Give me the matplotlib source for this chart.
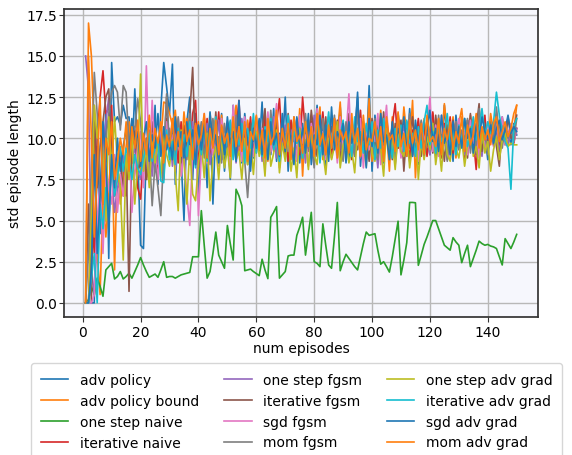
import numpy as np
import matplotlib
matplotlib.use("Agg")
import matplotlib.pyplot as plt

labels = ["adv policy", "adv policy bound", "one step naive", "iterative naive",
          "one step fgsm", "iterative fgsm", "sgd fgsm", "mom fgsm",
          "one step adv grad", "iterative adv grad", "sgd adv grad", "mom adv grad"]

adv_policy = [
    0, 0, 0, 0, 9.5, 4.2, 8.0, 11.5, 2.7, 14.6,
    11.0, 11.3, 10.8, 12.0, 11.2, 11.3, 8.5, 13.0, 9.0, 3.5,
    3.3, 9.5, 10.2, 8.0, 12.0, 7.2, 11.8, 14.6, 13.1, 11.5,
    14.5, 7.2, 10.5, 8.8, 5.0, 11.0, 12.5, 7.5, 11.5, 6.3,
    9.8, 10.5, 7.0, 11.2, 6.0, 10.8, 9.2, 11.5, 8.0, 10.5,
    7.5, 12.0, 9.0, 10.8, 8.5, 11.5, 9.8, 10.2, 8.8, 11.0,
    9.5, 12.2, 8.2, 10.5, 9.0, 11.8, 8.6, 10.3, 9.4, 12.5,
    8.0, 10.6, 9.8, 11.2, 8.5, 10.9, 9.2, 11.5, 8.4, 10.0,
    12.0, 9.1, 10.7, 8.2, 11.3, 9.6, 10.4, 8.8, 11.9, 9.3,
    10.5, 8.6, 11.0, 9.9, 12.8, 8.3, 10.6, 9.1, 13.2, 8.0,
    11.4, 9.7, 10.2, 8.5, 11.2, 9.4, 10.8, 8.7, 11.5, 9.9,
    10.3, 8.9, 11.8, 9.2, 10.6, 8.4, 11.0, 9.7, 10.5, 9.0,
    11.3, 8.8, 10.1, 9.5, 12.0, 9.3, 10.7, 8.6, 11.4, 9.8,
    10.4, 8.9, 11.1, 9.6, 10.8, 9.0, 11.6, 9.4, 10.2, 8.7,
    11.0, 9.9, 10.5, 9.2, 11.3, 10.0, 10.4, 9.6, 10.9, 10.2]

adv_policy_bound = [
    0, 17.0, 15.0, 10.0, 3.0, 0.5, 6.5, 4.0, 6.5, 10.5,
    2.0, 8.5, 6.0, 7.5, 9.5, 11.0, 9.0, 8.5, 10.2, 8.0,
    9.3, 10.0, 7.8, 9.6, 8.8, 9.9, 9.8, 12.2, 12.1, 11.5,
    10.8, 11.7, 9.5, 10.5, 9.8, 11.2, 8.4, 10.6, 9.5, 11.0,
    9.1, 10.4, 8.7, 11.5, 9.9, 10.2, 8.8, 11.4, 9.7, 10.9,
    8.5, 10.6, 12.0, 9.2, 10.3, 8.9, 11.1, 9.8, 10.5, 9.1,
    10.8, 9.5, 11.6, 8.6, 10.4, 9.9, 11.2, 8.2, 10.7, 9.6,
    11.0, 9.3, 10.5, 8.8, 11.8, 7.7, 10.9, 9.6, 11.4, 9.0,
    10.3, 11.9, 8.7, 10.6, 9.4, 11.1, 9.8, 10.2, 12.2, 9.0,
    10.7, 9.3, 11.5, 8.9, 10.4, 9.8, 11.0, 9.2, 12.4, 8.6,
    10.8, 9.5, 11.7, 9.1, 10.5, 8.0, 11.3, 9.7, 10.6, 9.0,
    11.9, 10.2, 9.4, 12.3, 7.6, 10.8, 9.9, 11.2, 9.5, 10.4,
    11.5, 9.2, 10.6, 9.7, 12.1, 10.4, 9.6, 11.3, 8.8, 10.9,
    11.8, 9.8, 10.1, 11.4, 9.9, 10.6, 11.0, 9.5, 10.8, 9.7,
    11.5, 10.3, 9.9, 10.7, 11.2, 10.0, 9.6, 10.8, 10.4, 12.0]

one_step_naive = [
    0.0, 0.2, 1.0, 0.5, 1.5, 1.0, 0.4, 2.0, 2.2, 2.4,
    1.45, 1.6, 1.9, 1.45, 1.6, 1.8, 1.5, 1.9, 2.3, 2.75,
    2.3, 1.9, 1.55, 1.65, 1.75, 1.55, 2.0, 2.5, 1.55, 1.6,
    1.6, 1.5, 1.6, 1.7, 1.75, 1.8, 1.85, 2.8, 2.8, 2.8,
    5.6, 3.5, 1.5, 1.9, 3.0, 4.3, 2.9, 2.5, 2.1, 4.7,
    3.6, 2.6, 6.9, 6.5, 5.9, 1.95, 2.0, 2.05, 1.9, 1.78,
    1.65, 2.65, 2.0, 1.47, 5.2, 5.5, 5.85, 1.5, 1.7, 1.9,
    2.85, 2.9, 2.9, 4.1, 4.6, 5.2, 2.9, 4.2, 5.5, 2.5,
    2.4, 2.2, 4.8, 3.5, 2.3, 2.1, 4.0, 6.1, 1.95, 2.5,
    2.95, 2.7, 2.45, 2.2, 2.0, 2.8, 3.6, 4.3, 4.1, 4.15,
    4.2, 3.2, 2.35, 2.5, 2.2, 1.87, 2.8, 3.9, 4.96, 1.7,
    2.6, 3.65, 6.1, 6.1, 6.08, 2.28, 2.9, 3.55, 4.0, 4.5,
    5.0, 5.0, 4.5, 4.0, 3.5, 3.35, 3.2, 3.96, 3.7, 3.5,
    2.44, 3.0, 3.5, 2.2, 2.7, 3.2, 3.75, 3.6, 3.5, 3.55,
    3.45, 3.4, 3.3, 2.8, 2.3, 3.9, 3.6, 3.3, 3.7, 4.16]

iterative_naive = [
    0, 0, 5.5, 3.0, 10.0, 12.5, 14.1, 11.5, 11.8, 12.0,
    6.5, 7.0, 7.2, 9.0, 6.5, 10.0, 8.5, 9.0, 7.0, 6.3,
    9.0, 7.5, 8.6, 10.2, 9.0, 8.0, 10.5, 7.5, 11.2, 8.8,
    9.5, 10.8, 8.5, 11.0, 9.3, 10.2, 8.6, 11.5, 12.3, 8.2,
    10.6, 9.4, 11.2, 8.9, 10.7, 9.3, 11.6, 8.7, 10.1, 9.8,
    11.0, 9.0, 10.4, 12.3, 8.8, 10.2, 9.6, 11.3, 9.1, 10.5,
    10.0, 8.9, 11.4, 9.7, 10.6, 9.2, 10.9, 12.4, 9.5, 10.3,
    8.6, 11.1, 9.9, 10.7, 9.0, 12.5, 10.2, 9.4, 11.0, 8.9,
    10.5, 9.7, 11.6, 9.2, 10.4, 8.8, 11.2, 10.0, 9.3, 10.8,
    9.6, 11.4, 8.7, 10.3, 9.9, 11.7, 9.1, 10.5, 9.8, 10.9,
    8.9, 10.6, 9.5, 11.3, 10.1, 9.0, 10.8, 12.1, 9.4, 10.2,
    9.7, 11.0, 8.6, 10.5, 9.9, 11.2, 9.3, 10.7, 8.9, 10.4,
    11.6, 9.5, 10.2, 8.8, 10.9, 9.8, 11.3, 9.1, 10.6, 9.9,
    10.3, 8.7, 11.1, 9.4, 10.0, 8.1, 10.8, 9.6, 11.4, 9.2,
    10.5, 9.8, 11.0, 9.3, 10.6, 9.9, 10.2, 10.8, 9.7, 10.6]

one_step_fgsm = [
    15.0, 13.0, 2.0, 0.5, 4.0, 5.5, 9.5, 11.0, 12.5, 8.0,
    5.5, 7.0, 7.5, 9.0, 8.0, 10.0, 8.5, 9.5, 8.0, 7.5,
    9.0, 8.2, 10.5, 7.7, 9.6, 8.4, 10.4, 8.9, 9.7, 10.6,
    8.3, 9.9, 10.8, 8.0, 9.4, 10.1, 8.6, 11.0, 9.2, 10.3,
    8.8, 9.7, 10.9, 8.4, 10.0, 9.3, 11.1, 8.7, 9.8, 10.5,
    9.0, 10.7, 8.5, 9.9, 11.2, 9.4, 10.1, 8.9, 10.6, 9.5,
    10.9, 8.6, 9.8, 10.4, 9.1, 11.3, 8.8, 10.2, 9.6, 10.8,
    9.2, 10.5, 8.7, 11.0, 9.9, 10.3, 8.5, 10.7, 9.4, 11.4,
    9.7, 10.0, 8.9, 10.6, 9.3, 11.2, 9.8, 10.4, 8.6, 10.9,
    9.5, 10.2, 11.0, 9.0, 10.6, 8.8, 10.3, 9.7, 11.1, 9.4,
    10.0, 8.2, 10.8, 9.6, 11.3, 9.1, 10.5, 8.4, 10.1, 9.8,
    10.7, 9.3, 11.0, 8.9, 10.4, 9.6, 10.9, 9.2, 10.2, 9.0,
    10.6, 9.8, 11.2, 9.4, 10.1, 8.7, 10.5, 9.9, 11.0, 9.3,
    10.4, 9.0, 10.8, 9.7, 11.1, 9.5, 10.2, 8.9, 10.6, 9.8,
    10.3, 9.6, 10.9, 9.2, 10.0, 10.5, 9.7, 10.4, 10.1, 10.6]

iterative_fgsm = [
    0, 6.0, 0, 12.0, 7.0, 9.5, 11.0, 12.5, 13.0, 9.0,
    8.5, 9.0, 9.3, 6.5, 9.0, 0.7, 9.5, 10.5, 8.0, 8.5,
    10.0, 7.5, 9.2, 11.0, 8.7, 9.8, 10.3, 8.6, 12.5, 9.0,
    10.5, 9.2, 11.0, 8.5, 10.8, 9.5, 11.5, 14.3, 9.0, 10.7,
    8.8, 11.2, 9.5, 10.3, 9.0, 11.6, 8.6, 10.4, 9.7, 11.0,
    9.3, 10.8, 8.9, 11.4, 9.6, 10.2, 8.4, 10.9, 9.8, 11.3,
    9.1, 10.5, 11.8, 8.8, 10.3, 9.7, 11.1, 9.4, 10.6, 8.9,
    11.5, 9.9, 10.4, 8.7, 11.0, 9.5, 10.8, 9.2, 11.7, 10.1,
    8.9, 10.6, 9.6, 11.3, 9.0, 10.7, 9.8, 11.1, 8.5, 10.3,
    9.7, 11.5, 8.8, 10.4, 9.3, 11.0, 9.9, 10.2, 8.6, 11.2,
    9.5, 10.8, 9.0, 11.6, 9.8, 10.3, 8.7, 10.9, 9.4, 11.1,
    8.0, 10.5, 9.7, 11.3, 9.2, 10.6, 8.9, 11.0, 9.6, 10.4,
    9.1, 11.4, 9.8, 10.2, 8.6, 10.8, 9.5, 11.1, 9.3, 10.7,
    9.9, 10.3, 8.8, 11.5, 9.4, 10.6, 12.1, 9.2, 10.9, 9.7,
    10.2, 11.0, 9.5, 8.3, 10.8, 9.6, 11.3, 10.0, 10.5, 11.4]

sgd_fgsm = [
    0, 0, 0, 0.5, 5.0, 7.5, 3.0, 8.5, 7.0, 6.0,
    9.0, 5.5, 7.8, 6.5, 8.5, 10.0, 5.5, 8.0, 9.5, 10.4,
    7.0, 14.4, 8.0, 12.3, 9.0, 7.5, 10.5, 8.7, 11.0, 9.5,
    10.2, 8.0, 11.2, 7.7, 9.0, 6.5, 4.7, 9.5, 10.8, 5.3,
    9.0, 11.5, 8.5, 10.2, 9.0, 10.8, 8.3, 11.2, 9.6, 10.0,
    8.2, 12.0, 9.4, 10.7, 8.6, 11.3, 9.8, 10.1, 8.9, 11.0,
    9.5, 10.6, 8.4, 11.6, 9.2, 10.3, 12.1, 8.8, 10.7, 9.4,
    11.2, 9.0, 10.5, 8.6, 11.4, 9.7, 10.2, 8.3, 10.9, 9.6,
    11.8, 9.1, 10.4, 8.7, 11.0, 9.9, 10.6, 8.5, 11.3, 9.4,
    10.1, 12.7, 8.9, 10.5, 9.6, 11.2, 8.2, 10.8, 9.3, 10.6,
    9.8, 11.5, 8.4, 10.2, 12.0, 9.0, 10.7, 9.5, 11.1, 8.8,
    10.4, 9.7, 11.3, 9.1, 10.6, 8.6, 11.0, 9.9, 10.3, 12.5,
    9.2, 10.8, 8.9, 11.4, 9.6, 10.1, 8.7, 10.9, 9.5, 11.2,
    9.8, 10.4, 9.0, 11.1, 9.7, 10.5, 8.8, 10.7, 9.3, 11.0,
    10.2, 9.5, 10.8, 9.9, 11.3, 9.6, 10.1, 10.9, 9.8, 10.5]

mom_fgsm = [
    0, 3.0, 8.0, 14.0, 11.5, 7.0, 6.0, 10.0, 11.5, 12.8,
    13.2, 12.8, 10.5, 13.2, 12.8, 9.5, 11.0, 10.5, 12.4, 11.0,
    8.5, 10.0, 9.2, 5.9, 8.5, 7.0, 5.3, 9.0, 12.7, 9.5,
    10.8, 8.9, 11.3, 9.6, 10.2, 8.7, 11.5, 9.1, 10.6, 9.8,
    11.0, 8.8, 10.4, 9.3, 11.2, 9.7, 10.1, 8.5, 10.9, 9.4,
    10.7, 9.0, 11.4, 9.5, 10.3, 8.6, 6.4, 9.2, 10.8, 9.9,
    11.1, 9.3, 10.5, 8.9, 11.7, 9.6, 10.2, 8.7, 11.0, 9.8,
    10.4, 9.1, 11.3, 9.7, 10.6, 8.8, 11.5, 9.4, 10.0, 8.2,
    10.9, 9.5, 11.2, 9.0, 10.7, 9.8, 11.4, 9.3, 10.1, 8.6,
    11.0, 9.7, 10.3, 8.9, 11.6, 9.4, 10.5, 9.1, 10.8, 9.9,
    11.2, 8.7, 10.6, 9.6, 11.0, 9.2, 10.4, 8.9, 11.3, 9.8,
    10.1, 9.4, 11.5, 9.0, 10.7, 9.7, 11.1, 8.8, 10.3, 9.5,
    10.9, 9.2, 11.4, 9.8, 10.2, 8.6, 10.7, 9.6, 11.0, 9.3,
    10.5, 9.9, 11.2, 9.1, 10.6, 9.4, 11.8, 9.7, 10.3, 9.0,
    10.8, 9.6, 11.9, 10.2, 9.4, 10.7, 10.0, 10.6, 9.8, 11.2]

one_step_adv_grad = [
    0, 0, 5.5, 12.0, 10.0, 11.5, 9.0, 5.0, 11.3, 8.0,
    11.3, 8.5, 7.0, 2.6, 9.0, 7.5, 10.5, 6.0, 8.5, 13.9,
    8.0, 9.5, 7.0, 10.0, 8.5, 9.8, 7.6, 10.4, 9.0, 8.3,
    9.9, 7.8, 5.6, 10.5, 8.6, 6.0, 9.5, 6.6, 6.2, 8.5,
    9.7, 7.6, 10.3, 6.2, 8.8, 9.5, 7.5, 10.1, 8.2, 9.4,
    7.6, 10.6, 8.7, 9.2, 7.5, 10.0, 8.4, 9.8, 7.8, 10.4,
    8.9, 9.6, 7.7, 10.8, 8.3, 9.1, 10.5, 7.9, 9.7, 8.6,
    10.2, 8.0, 9.4, 7.6, 10.6, 8.8, 9.9, 8.1, 10.3, 9.0,
    8.4, 10.7, 9.2, 7.8, 10.0, 8.7, 9.5, 11.0, 8.2, 9.6,
    10.1, 8.5, 9.3, 7.9, 10.4, 8.9, 9.7, 8.3, 10.9, 9.1,
    8.6, 10.2, 9.4, 7.7, 10.6, 8.8, 9.9, 8.1, 10.3, 9.2,
    8.9, 10.5, 8.2, 9.6, 10.8, 7.5, 9.8, 8.7, 10.1, 9.3,
    10.9, 8.4, 9.7, 8.0, 10.5, 9.0, 8.6, 10.2, 9.4, 8.8,
    10.0, 8.3, 9.6, 10.7, 8.9, 9.5, 8.2, 10.4, 9.1, 9.8,
    8.0, 9.3, 10.1, 8.7, 9.9, 10.3, 9.5, 9.7, 9.6, 9.6]

iterative_adv_grad = [
    0, 0, 1.5, 3.0, 0, 6.0, 4.5, 7.0, 5.0, 8.5,
    6.5, 7.5, 9.5, 8.0, 9.4, 8.7, 7.5, 9.0, 8.2, 7.8,
    8.8, 9.5, 10.3, 8.6, 9.4, 10.0, 7.4, 7.3, 10.5, 8.7,
    9.8, 8.4, 10.6, 9.1, 10.2, 8.9, 11.0, 9.5, 8.2, 10.4,
    9.0, 10.8, 8.6, 10.1, 9.7, 11.3, 8.8, 10.5, 9.2, 10.0,
    11.1, 8.7, 10.3, 9.6, 10.9, 8.5, 10.6, 9.4, 11.5, 9.1,
    10.2, 8.9, 10.7, 9.8, 11.2, 9.3, 10.0, 8.6, 10.8, 9.5,
    11.4, 9.0, 10.4, 9.7, 10.1, 8.8, 11.0, 9.6, 10.5, 9.2,
    10.9, 8.5, 10.3, 9.9, 11.6, 9.4, 10.7, 9.0, 10.2, 11.1,
    9.3, 10.6, 8.9, 11.3, 9.8, 10.4, 9.1, 10.9, 9.6, 11.0,
    8.7, 10.5, 9.4, 11.2, 9.9, 10.1, 8.8, 10.6, 9.5, 10.8,
    9.2, 11.1, 9.7, 10.3, 8.9, 10.7, 9.4, 11.0, 12.0, 9.6,
    10.4, 9.1, 10.9, 9.8, 10.2, 11.5, 9.3, 10.6, 9.0, 10.8,
    9.7, 11.2, 9.5, 10.1, 11.3, 9.9, 10.5, 11.8, 10.2, 11.0,
    10.3, 11.0, 12.8, 11.4, 10.5, 9.8, 9.4, 6.9, 10.7, 11.2]

sgd_adv_grad = [
    0, 0, 2.0, 9.0, 3.0, 6.5, 11.0, 8.5, 4.5, 9.0,
    7.0, 10.0, 8.0, 9.5, 10.5, 8.8, 11.2, 9.6, 10.4, 8.3,
    9.9, 11.0, 8.6, 10.2, 9.4, 11.5, 8.9, 10.7, 9.3, 10.0,
    8.7, 11.3, 9.5, 10.4, 8.8, 11.0, 9.6, 10.5, 8.4, 10.8,
    9.3, 10.9, 8.8, 11.6, 9.5, 10.2, 8.5, 10.7, 9.0, 11.3,
    9.7, 10.4, 8.6, 12.3, 9.3, 10.8, 9.9, 8.0, 10.6, 9.4,
    11.2, 9.0, 10.5, 8.7, 11.0, 9.6, 10.3, 8.9, 11.5, 9.2,
    10.7, 9.9, 8.4, 11.3, 9.5, 10.6, 9.1, 11.1, 8.8, 10.2,
    9.6, 11.4, 9.0, 10.8, 8.6, 11.9, 9.3, 10.4, 9.8, 10.9,
    8.5, 11.0, 9.7, 10.3, 12.5, 9.4, 10.6, 8.2, 11.2, 9.5,
    10.8, 9.1, 11.5, 9.8, 10.2, 8.7, 11.0, 9.4, 10.6, 9.9,
    11.3, 9.3, 10.5, 8.9, 11.1, 9.6, 10.8, 9.0, 10.4, 11.7,
    9.8, 10.6, 9.2, 11.4, 9.7, 10.3, 9.0, 11.0, 9.5, 10.7,
    9.4, 11.2, 10.0, 10.6, 9.1, 10.9, 9.8, 11.3, 10.4, 10.0,
    10.8, 9.7, 10.6, 11.1, 9.9, 10.5, 11.4, 10.3, 10.7, 10.4]

mom_adv_grad = [
    0, 15.0, 10.0, 4.0, 8.0, 12.5, 6.0, 10.0, 9.0, 11.0,
    7.5, 8.5, 10.0, 9.0, 11.0, 8.0, 10.7, 9.4, 11.1, 8.6,
    10.3, 9.0, 11.4, 8.8, 10.6, 9.7, 11.0, 8.5, 10.2, 9.5,
    11.2, 9.3, 10.4, 8.9, 11.6, 9.8, 10.5, 8.7, 10.9, 9.6,
    10.2, 11.5, 8.8, 10.6, 9.4, 11.1, 9.0, 10.8, 9.7, 10.3,
    8.9, 11.3, 9.5, 10.7, 9.2, 11.0, 8.6, 10.4, 9.9, 11.4,
    9.3, 10.5, 8.8, 11.2, 9.6, 10.1, 11.7, 9.0, 10.6, 9.4,
    10.9, 8.7, 11.3, 9.8, 10.2, 9.1, 11.0, 9.5, 10.7, 8.9,
    11.5, 9.6, 10.3, 9.0, 10.8, 9.4, 11.2, 8.8, 10.5, 9.9,
    10.4, 9.1, 11.1, 9.7, 10.6, 8.9, 11.4, 9.3, 10.0, 9.8,
    11.0, 9.4, 10.7, 8.6, 11.3, 9.9, 10.2, 9.2, 11.6, 9.5,
    10.3, 8.9, 11.1, 9.7, 10.5, 9.3, 10.9, 9.0, 11.4, 9.8,
    10.1, 9.5, 11.2, 9.0, 10.6, 9.9, 11.0, 9.3, 10.4, 9.7,
    11.3, 9.2, 10.8, 9.6, 10.2, 11.5, 9.4, 10.7, 9.9, 10.5,
    9.6, 10.9, 11.3, 9.8, 10.4, 11.0, 10.1, 10.6, 11.5, 12.0]

series = [adv_policy, adv_policy_bound, one_step_naive, iterative_naive,
          one_step_fgsm, iterative_fgsm, sgd_fgsm, mom_fgsm,
          one_step_adv_grad, iterative_adv_grad, sgd_adv_grad, mom_adv_grad]

fig = plt.figure(figsize=(5.72, 4.56), dpi=100)
ax = fig.add_axes([0.112, 0.303, 0.829, 0.675])
ax.set_facecolor('#f6f7fd')
ax.grid(True, color='#b8b8b8', linewidth=1.0)
ax.set_axisbelow(True)
for sp in ax.spines.values():
    sp.set_color('#333333')
    sp.set_linewidth(1.25)
ax.tick_params(colors='#333333', labelcolor='black', labelsize=10)
ax.tick_params(axis='y', pad=1.5)
ax.tick_params(axis='x', pad=2.5)

for vals, lab in zip(series, labels):
    x = np.arange(1, len(vals) + 1)
    ax.plot(x, vals, label=lab, linewidth=1.2)

ax.set_xlabel("num episodes", fontsize=10, labelpad=1)
ax.set_ylabel("std episode length", fontsize=10, labelpad=3)
ax.set_yticks(np.arange(0, 17.6, 2.5))

fig.legend(loc='upper left', bbox_to_anchor=(24 / 572, 1 - 357 / 456),
           ncol=3, fontsize=10, frameon=True, handlelength=2.0,
           columnspacing=1.8, borderpad=0.7)

fig.savefig("out.png", dpi=100)
